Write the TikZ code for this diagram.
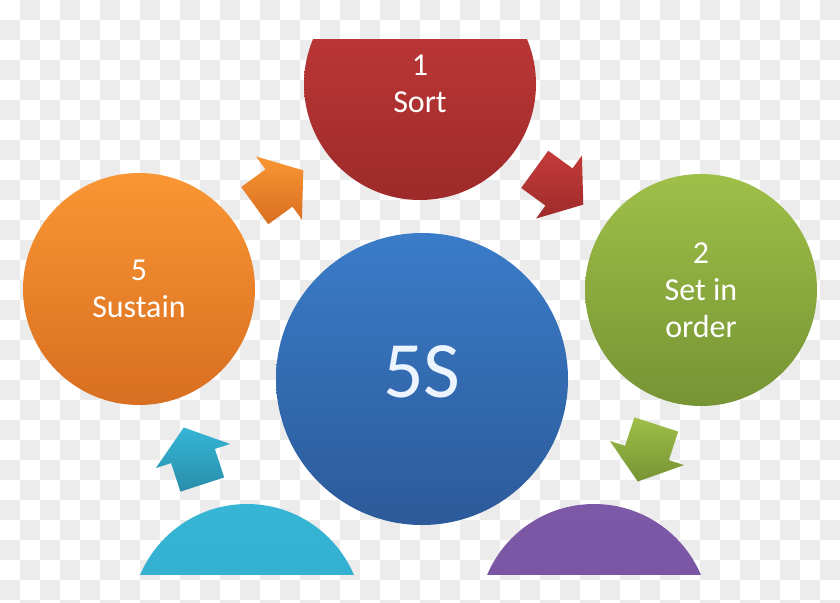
\documentclass[tikz,border=0pt]{standalone}
\usepackage{fontspec}
\setmainfont{Carlito}
\begin{document}
\begin{tikzpicture}[x=1pt,y=-1pt,
  bubble/.style={circle, minimum size=232pt, inner sep=0pt, align=center,
    text=white, font=\fontsize{32}{37}\selectfont},
  hub/.style={circle, minimum size=292pt, inner sep=0pt},
]
\definecolor{chk}{RGB}{236,236,236}
\definecolor{redT}{RGB}{196,60,58}\definecolor{redB}{RGB}{158,42,42}
\definecolor{grnT}{RGB}{158,191,72}\definecolor{grnB}{RGB}{118,148,52}
\definecolor{orgT}{RGB}{250,150,52}\definecolor{orgB}{RGB}{216,110,32}
\definecolor{bluT}{RGB}{58,124,200}\definecolor{bluB}{RGB}{44,90,154}
\definecolor{cyaT}{RGB}{54,181,213}\definecolor{cyaB}{RGB}{48,166,200}
\definecolor{purT}{RGB}{124,88,166}\definecolor{purB}{RGB}{118,82,160}
\definecolor{hubtxt}{RGB}{236,244,255}
\useasboundingbox (0,0) rectangle (840,602);
% checkerboard background
\fill[white] (0,0) rectangle (840,602);
\foreach \i in {0,...,41}{
  \foreach \j in {0,...,30}{
    \pgfmathtruncatemacro\k{mod(\i+\j,2)}
    \ifnum\k=1 \fill[chk] (\i*20,\j*20) rectangle ++(20,20); \fi
  }
}
\newcommand\blockarr[5]{%
  \begin{scope}[shift={(#1,#2)}, rotate=#3]
    \shade[top color=#4, bottom color=#5]
      (-30,-23) -- (0,-23) -- (0,-39) -- (30,0) -- (0,39) -- (0,23) -- (-30,23) -- cycle;
  \end{scope}}
\begin{scope}
\clip (0,40) rectangle (840,574);
% circles
\node[bubble, top color=redT, bottom color=redB] (sort) at (420,84) {1\\Sort};
\node[bubble, top color=grnT, bottom color=grnB] (order) at (701,290) {2\\Set in\\order};
\node[bubble, top color=purT, bottom color=purB] (shine) at (594,620) {};
\node[bubble, top color=cyaT, bottom color=cyaB] (std) at (247,620) {};
\node[bubble, top color=orgT, bottom color=orgB] (sustain) at (139,289) {5\\Sustain};
\node[hub, top color=bluT, bottom color=bluB] (hub) at (422,379) {};
\node[font=\fontsize{80}{90}\selectfont, text=hubtxt] (hubtext) at ([yshift=7pt]hub.center) {5S};
% arrows
\blockarr{559}{187}{-36}{redT}{redB}
\blockarr{647}{453}{-108}{grnT}{grnB}
\blockarr{193}{456}{108}{cyaT}{cyaB!85!black}
\blockarr{279}{188}{36}{orgT}{orgB}
\end{scope}
\end{tikzpicture}
\end{document}
